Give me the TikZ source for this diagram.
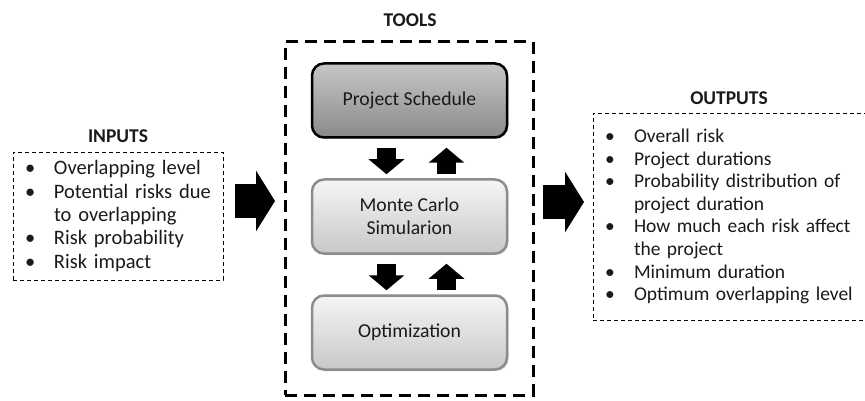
\documentclass[tikz,border=0pt]{standalone}
\usepackage{fontspec}
\setmainfont{Carlito}
\usetikzlibrary{arrows.meta, shadows}

\definecolor{darktop}{HTML}{C6C6C6}
\definecolor{darkbot}{HTML}{8A8A8A}
\definecolor{lighttop}{HTML}{F5F5F5}
\definecolor{lightbot}{HTML}{C8C8C8}
\definecolor{lightrim}{HTML}{8C8C8C}
\definecolor{txt}{HTML}{1A1A1A}

\newcommand{\bul}{\makebox[29pt][l]{\textbullet}}
\newcommand{\bulpad}{\hspace*{29pt}}

\begin{document}
\begin{tikzpicture}[x=1pt, y=-1pt, text=txt,
  title/.style={font=\fontsize{19.5}{22}\selectfont\bfseries},
  listbox/.style={draw, thin, dash pattern=on 4pt off 3pt, align=left, inner xsep=12pt},
  toolbox/.style={draw, line width=2.5pt, rounded corners=12pt, minimum width=195pt, minimum height=74pt, align=center, font=\fontsize{19.7}{23}\selectfont, drop shadow={opacity=0.25, shadow xshift=1.5pt, shadow yshift=-1.5pt}},
  darkbox/.style={toolbox, top color=darktop, bottom color=darkbot},
  lightbox/.style={toolbox, draw=lightrim, top color=lighttop, bottom color=lightbot},
  bigarrow/.style={line width=34pt, -{Triangle[width=60pt, length=19pt]}},
  smallarrow/.style={line width=19pt, -{Triangle[width=35pt, length=15pt]}}]
  \useasboundingbox (0,0) rectangle (865,401);

  % inputs
  \node[listbox, text width=186pt, minimum height=128pt, font=\fontsize{20.5}{23.3}\selectfont] (inbox) at (118,216) {%
    \bul Overlapping level\\
    \bul Potential risks due\\
    \bulpad to overlapping\\
    \bul Risk probability\\
    \bul Risk impact};
  \node[title] (intitle) at (118,136) {INPUTS};

  % tools
  \node[draw, line width=3pt, dash pattern=on 12pt off 7pt, minimum width=248pt, minimum height=353pt] (tools) at (409,218.5) {};
  \node[title] (tooltitle) at (410,20) {TOOLS};
  \node[darkbox] (ps) at (409.5,100.5) {Project Schedule};
  \node[lightbox] (mc) at (409.5,216.5) {Monte Carlo\\Simularion};
  \node[lightbox] (opt) at (409.5,332.5) {Optimization};

  \foreach \a/\b in {ps/mc, mc/opt} {
    \draw[smallarrow] ([xshift=-23pt, yshift=-9pt]\a.south) -- ([xshift=-23pt, yshift=4pt]\b.north);
    \draw[smallarrow] ([xshift=37pt, yshift=4pt]\b.north) -- ([xshift=37pt, yshift=-9pt]\a.south);
  }

  % outputs
  \node[listbox, text width=248pt, minimum height=207pt, font=\fontsize{19.5}{22.6}\selectfont] (outbox) at (729,216.5) {%
    \bul Overall risk\\
    \bul Project durations\\
    \bul Probability distribution of\\
    \bulpad project duration\\
    \bul How much each risk affect\\
    \bulpad the project\\
    \bul Minimum duration\\
    \bul Optimum overlapping level};
  \node[title] (outtitle) at (729,98.5) {OUTPUTS};

  % big arrows
  \coordinate (in1) at (235,201);
  \coordinate (in2) at (275,201);
  \coordinate (out1) at (543,202);
  \coordinate (out2) at (584,202);
  \draw[bigarrow] (in1) -- (in2);
  \draw[bigarrow] (out1) -- (out2);
\end{tikzpicture}
\end{document}
